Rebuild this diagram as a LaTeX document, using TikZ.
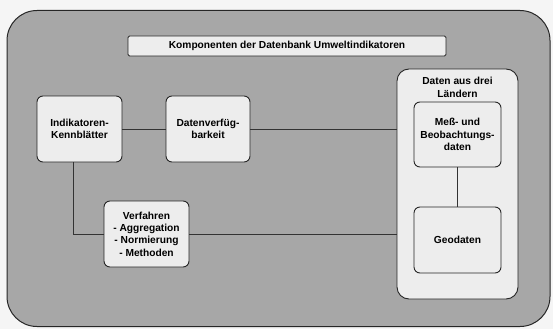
\documentclass[tikz,border=0pt]{standalone}
\usepackage{fontspec}
\setmainfont{Liberation Sans}
\begin{document}
\begin{tikzpicture}[x=1pt,y=-1pt,
  font=\bfseries\fontsize{10.2}{12.3}\selectfont,
  box/.style={draw=black!85,line width=0.9pt,fill=boxgray,rounded corners=6pt,align=center,inner sep=1pt},
  conn/.style={draw=black!80,line width=0.9pt}]
\definecolor{boxgray}{HTML}{EDEDED}
\definecolor{bggray}{HTML}{A7A7A7}
\definecolor{pagegray}{HTML}{F5F5F5}
\useasboundingbox (0,0) rectangle (553,329);
\fill[pagegray] (0,0) rectangle (553,329);
\node[draw=black!85,line width=1pt,fill=bggray,rounded corners=30pt,minimum width=543pt,minimum height=316pt,inner sep=0pt] (outer) at (278.5,168.5) {};
\node[box,rounded corners=1.5pt,minimum width=318pt,minimum height=20pt] (title) at (287,46) {Komponenten der Datenbank Umweltindikatoren};
\node[box,minimum width=85pt,minimum height=66pt] (ind) at (79.5,129) {Indikatoren-\\Kennblätter};
\node[box,minimum width=84pt,minimum height=66pt] (dat) at (208,129) {Datenverfüg-\\barkeit};
\node[box,rounded corners=12pt,minimum width=121pt,minimum height=230pt] (laender) at (457.5,184) {};
\node[align=center,inner sep=0pt] (laendertxt) at (457.5,87.5) {Daten aus drei\\Ländern};
\node[box,minimum width=87pt,minimum height=65pt] (mess) at (457.5,134.5) {Meß- und\\Beobachtungs-\\daten};
\node[box,minimum width=87pt,minimum height=66pt] (geo) at (457.5,240) {Geodaten};
\node[box,minimum width=85pt,minimum height=66pt] (verf) at (146.5,234) {Verfahren\\- Aggregation\\- Normierung\\- Methoden};
\draw[conn] (ind) -- (dat);
\draw[conn] (dat.east) -- (dat.east -| laender.west);
\draw[conn] (mess) -- (geo);
\draw[conn] ([xshift=-6pt]ind.south) |- (verf.west);
\draw[conn] (verf.east) -- (verf.east -| laender.west);
\end{tikzpicture}
\end{document}
